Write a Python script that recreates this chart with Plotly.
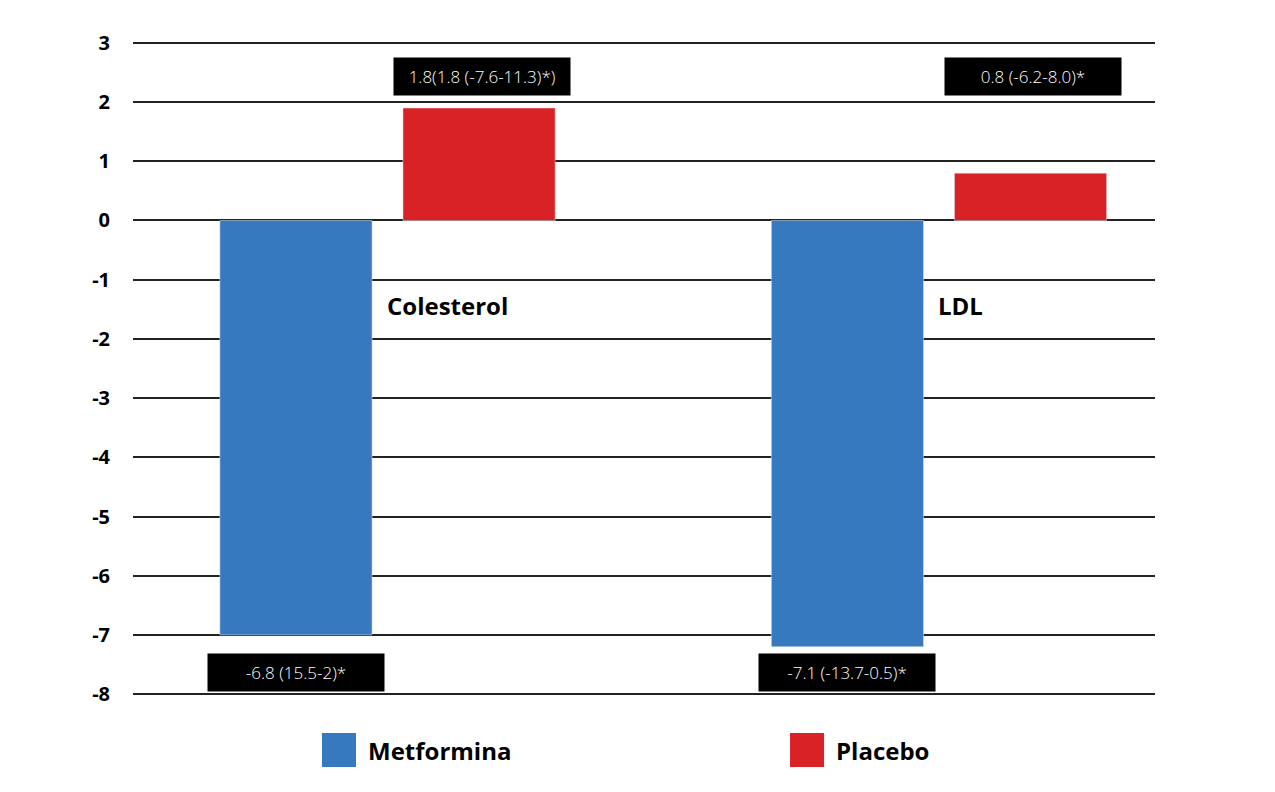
import plotly.graph_objects as go

# ── DATOS ──────────────────────────────────────────────────────
categorias = ["Colesterol", "LDL"]
metformina = [-7.0, -7.2]
placebo    = [1.9, 0.8]
etiq_metformina = ["-6.8 (15.5-2)*", "-7.1 (-13.7-0.5)*"]
etiq_placebo    = ["1.8(1.8 (-7.6-11.3)*)", "0.8 (-6.2-8.0)*"]
ticks_y = [3, 2, 1, 0, -1, -2, -3, -4, -5, -6, -7, -8]

AZUL = "#3679BF"
ROJO = "#D82226"
FUENTE = "Open Sans"

# posiciones de las barras dentro de cada grupo
ANCHO = 0.276
OFF_MET = -0.304
OFF_PLA = 0.028
xs = list(range(len(categorias)))

fig = go.Figure()
fig.add_trace(go.Bar(x=xs, y=metformina, name="Metformina", marker_color=AZUL,
                     width=ANCHO, offset=OFF_MET, showlegend=False))
fig.add_trace(go.Bar(x=xs, y=placebo, name="Placebo", marker_color=ROJO,
                     width=ANCHO, offset=OFF_PLA, showlegend=False))

# etiquetas negras
def caja(x, y, texto):
    fig.add_annotation(x=x, y=y, text=texto, showarrow=False,
                       font=dict(family=FUENTE, size=17, color="white", weight=300),
                       bgcolor="black", width=168, height=29, borderpad=4)

for i in xs:
    caja(i + OFF_MET + ANCHO / 2, -7.63, etiq_metformina[i])
    caja(i + OFF_PLA + ANCHO / 2 + 0.005, 2.44, etiq_placebo[i])
    fig.add_annotation(x=i, y=-1.43, text="<b>%s</b>" % categorias[i], showarrow=False,
                       xanchor="left", yanchor="middle", xshift=-3,
                       font=dict(family=FUENTE, size=24, color="black"))

# leyenda manual
for x0, color, nombre in [(0.1849, AZUL, "Metformina"), (0.6429, ROJO, "Placebo")]:
    fig.add_shape(type="rect", xref="paper", yref="paper", x0=x0, x1=x0 + 0.0333,
                  y0=-0.0958, y1=-0.045, fillcolor=color, line_width=0)
    fig.add_annotation(xref="paper", yref="paper", x=x0 + 0.046, y=-0.0704,
                       text="<b>%s</b>" % nombre, showarrow=False,
                       xanchor="left", yanchor="middle", xshift=-3,
                       font=dict(family=FUENTE, size=24, color="black"))

# la pagina tiene 8px de margen en el body
fig.update_layout(
    width=1275, height=792,
    margin=dict(l=125, r=128, t=26, b=97),
    plot_bgcolor="white", paper_bgcolor="white",
    xaxis=dict(range=[-0.4615, 1.3917], showticklabels=False, showgrid=False,
               zeroline=False, showline=False),
    yaxis=dict(range=[-8.15, 3.15], tickvals=ticks_y, ticktext=[str(t) for t in ticks_y],
               showgrid=True, gridcolor="#222", gridwidth=2,
               zeroline=True, zerolinecolor="#222", zerolinewidth=2,
               tickfont=dict(family=FUENTE, size=20, color="black", weight="bold"),
               ticklabelstandoff=22, showline=False),
)

fig.write_html("out.html")
